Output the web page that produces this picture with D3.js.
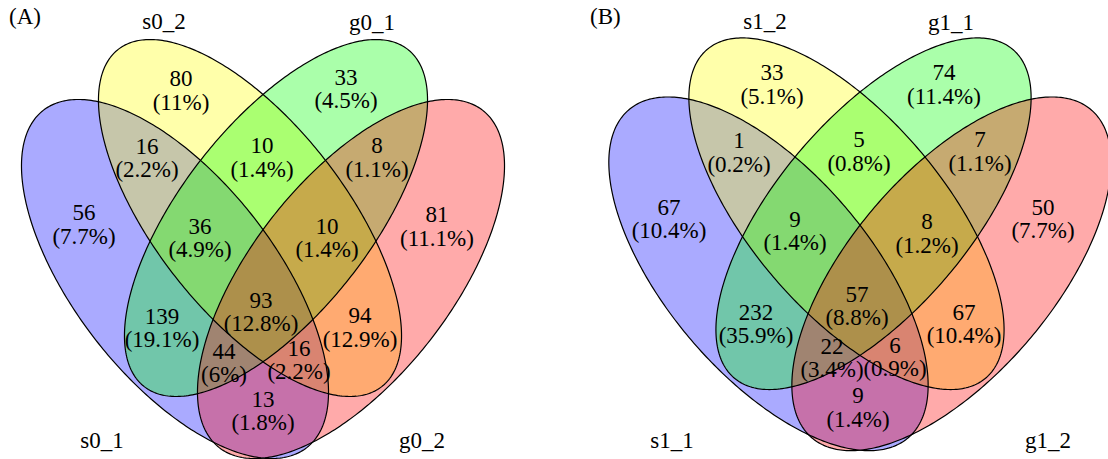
<!DOCTYPE html>
<html><head><meta charset="utf-8">
<script src="https://cdn.jsdelivr.net/npm/d3@7"></script>
<style>
body{margin:0;background:#fff}
svg{display:block}
</style>
</head><body>
<svg id="chart" width="1108" height="459" font-family="'Liberation Serif', 'Times New Roman', Times, 'DejaVu Serif', serif"></svg>
<script>
// ---------- data ----------
const panelTitles = ["(A)", "(B)"];
const setNamesA = ["s0_1", "s0_2", "g0_1", "g0_2"];
const setNamesB = ["s1_1", "s1_2", "g1_1", "g1_2"];
const setColors = ["#0000ff", "#ffff00", "#00ff00", "#ff0000"];
// regions: 1 = first set (blue), 2 = second (yellow), 3 = third (green), 4 = fourth (red)
const regionKeys = ["1", "2", "3", "4", "12", "23", "34", "123", "234", "13", "1234", "24", "134", "124", "14"];
const countsA = [56, 80, 33, 81, 16, 10, 8, 36, 10, 139, 93, 94, 44, 16, 13];
const percentsA = ["7.7%", "11%", "4.5%", "11.1%", "2.2%", "1.4%", "1.1%", "4.9%", "1.4%", "19.1%", "12.8%", "12.9%", "6%", "2.2%", "1.8%"];
const countsB = [67, 33, 74, 50, 1, 5, 7, 9, 8, 232, 57, 67, 22, 6, 9];
const percentsB = ["10.4%", "5.1%", "11.4%", "7.7%", "0.2%", "0.8%", "1.1%", "1.4%", "1.2%", "35.9%", "8.8%", "10.4%", "3.4%", "0.9%", "1.4%"];

// ---------- layout ----------
// ellipses in panel-local units (x relative to panel centre)
const ellipses = [
  {cx: -88, cy: 279, a: 214, b: 100, rot: 52},
  {cx: -13, cy: 218, a: 214, b: 95, rot: 52},
  {cx: 13, cy: 218, a: 214, b: 95, rot: -52},
  {cx: 88, cy: 279, a: 214, b: 100, rot: -52}
];
const panels = [
  {
    title: panelTitles[0], titleX: 9, titleY: 24,
    names: setNamesA, counts: countsA, percents: percentsA,
    x: d3.scaleLinear().domain([-263, 263]).range([0, 526]),
    y: d3.scaleLinear().domain([0, 459]).range([0, 459]),
    setLabelPos: [[102, 448], [164, 29], [372, 30], [422, 448]],
    regionPos: [
      [84, 220, 244], [181, 86, 110], [346, 85, 108], [437, 222, 246],
      [147, 154, 177], [262, 153, 177], [377, 153, 177],
      [200, 234, 257], [327, 234, 257],
      [162, 324, 347], [261, 308, 331], [360, 323, 347],
      [224, 359, 382], [299, 356, 379], [263, 407, 430]
    ]
  },
  {
    title: panelTitles[1], titleX: 590, titleY: 24,
    names: setNamesB, counts: countsB, percents: percentsB,
    x: d3.scaleLinear().domain([-263, 263]).range([860 - 263 * 1.04, 860 + 263 * 1.04]),
    y: d3.scaleLinear().domain([0, 459]).range([-1, 459 * 0.985 - 1]),
    setLabelPos: [[672, 448], [765, 29], [951, 30], [1048, 448]],
    regionPos: [
      [669, 215, 238], [772, 80, 104], [944, 80, 104], [1043, 215, 238],
      [739, 148, 172], [859, 147, 171], [980, 147, 171],
      [795, 227, 250], [927, 229, 253],
      [756, 320, 343], [857, 302, 325], [964, 320, 343],
      [832, 354, 377], [895, 353, 376], [858, 403, 427]
    ]
  }
];

const svg = d3.select("#chart");
const angles = d3.range(0, 2 * Math.PI, Math.PI / 180);
const FONT = "'Liberation Serif', 'Times New Roman', Times, 'DejaVu Serif', serif";

function ellipsePoints(e) {
  const r = e.rot * Math.PI / 180, c = Math.cos(r), s = Math.sin(r);
  return angles.map(t => {
    const u = e.a * Math.cos(t), v = e.b * Math.sin(t);
    return [e.cx + u * c - v * s, e.cy + u * s + v * c];
  });
}

panels.forEach(p => {
  const g = svg.append("g");
  const line = d3.line().x(d => p.x(d[0])).y(d => p.y(d[1])).curve(d3.curveLinearClosed);
  g.selectAll("path.fill").data(ellipses).join("path")
    .attr("d", e => line(ellipsePoints(e)))
    .attr("fill", (e, i) => setColors[i])
    .attr("fill-opacity", 0.333)
    .attr("stroke", "none");
  g.selectAll("path.edge").data(ellipses).join("path")
    .attr("d", e => line(ellipsePoints(e)))
    .attr("fill", "none")
    .attr("stroke", "#000")
    .attr("stroke-width", 1.2);

  const lab = g.selectAll("text.region").data(regionKeys).join("text")
    .attr("text-anchor", "middle")
    .attr("font-family", FONT)
    .attr("font-size", 23);
  lab.append("tspan").attr("x", (k, i) => p.regionPos[i][0]).attr("y", (k, i) => p.regionPos[i][1])
    .text((k, i) => p.counts[i]);
  lab.append("tspan").attr("x", (k, i) => p.regionPos[i][0]).attr("y", (k, i) => p.regionPos[i][2])
    .text((k, i) => "(" + p.percents[i] + ")");

  g.selectAll("text.set").data(p.names).join("text")
    .attr("x", (d, i) => p.setLabelPos[i][0]).attr("y", (d, i) => p.setLabelPos[i][1])
    .attr("text-anchor", "middle").attr("font-family", FONT).attr("font-size", 23).text(d => d);

  g.append("text").attr("x", p.titleX).attr("y", p.titleY)
    .attr("font-family", FONT).attr("font-size", 23).text(p.title);
});
</script>
</body></html>
